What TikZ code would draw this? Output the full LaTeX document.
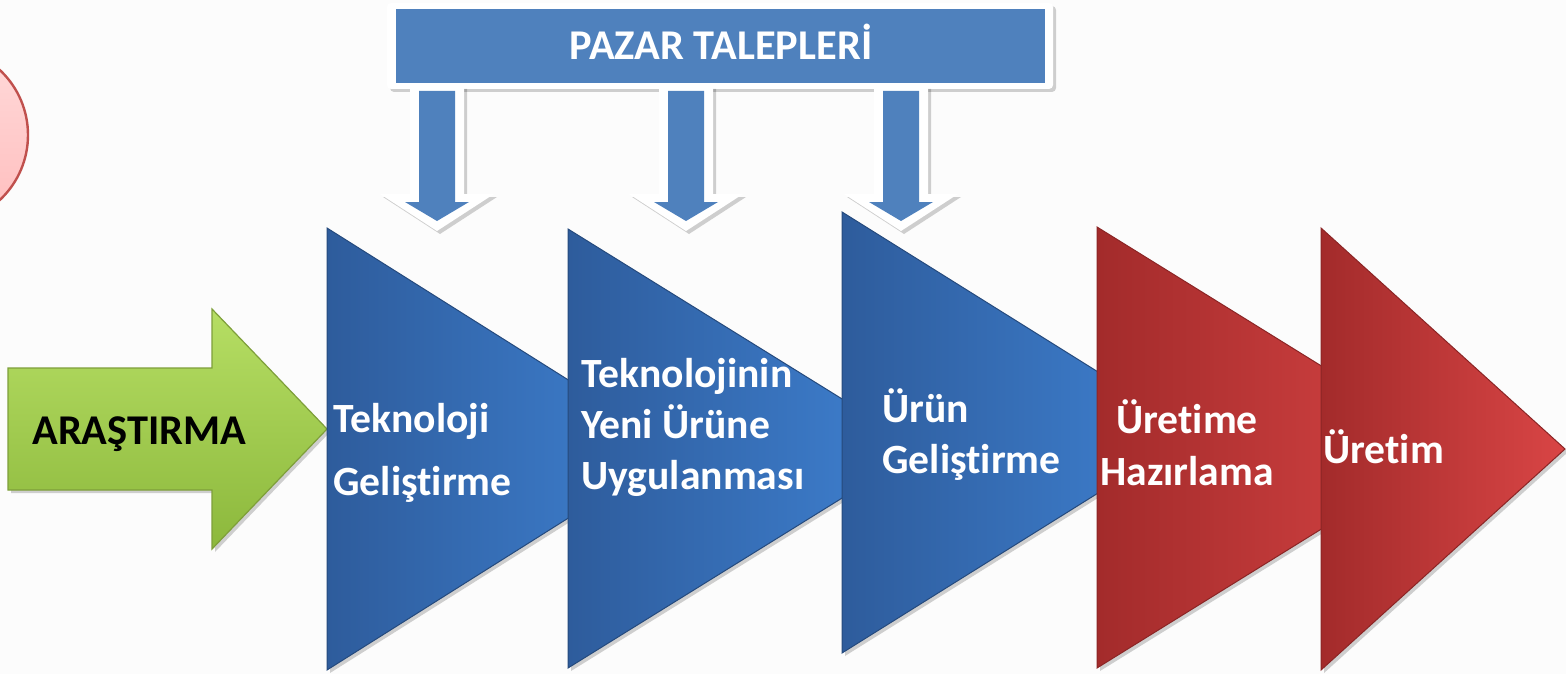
\documentclass[tikz,border=0pt]{standalone}
\usepackage{fontspec}
\setmainfont{Carlito}[Ligatures=NoCommon]
\usetikzlibrary{shadows}
\definecolor{bg}{HTML}{FCFCFC}
\definecolor{bluedark}{HTML}{2E5C9C}
\definecolor{bluelight}{HTML}{3F82D3}
\definecolor{reddark}{HTML}{A32B2B}
\definecolor{redlight}{HTML}{D94545}
\definecolor{boxblue}{HTML}{4F81BD}
\definecolor{greenlight}{HTML}{B6DE64}
\definecolor{greendark}{HTML}{8CB83C}
\definecolor{greenedge}{HTML}{7E9F3A}
\definecolor{pinktop}{HTML}{FFDADA}
\definecolor{pinkbot}{HTML}{FFBDBD}
\definecolor{pinkedge}{HTML}{C0504D}
\tikzset{
  softshadow/.style={drop shadow={shadow xshift=1.5pt, shadow yshift=-1.5pt, opacity=0.18, fill=black}},
  bluetri/.style={left color=bluedark, right color=bluelight, draw=bluedark!80!black, line width=0.5pt, softshadow},
  redtri/.style={left color=reddark, right color=redlight, draw=reddark!85!black, line width=0.5pt, softshadow},
  lbl/.style={font=\fontsize{20.8pt}{25.5pt}\selectfont\bfseries, text=white, inner sep=0pt},
}
\begin{document}
\begin{tikzpicture}[x=0.5pt,y=-0.5pt]
\useasboundingbox (0,0) rectangle (1566,674);
\fill[bg] (0,0) rectangle (1566,674);
% pink circle (partly off the page)
\begin{scope}
\clip (0,0) rectangle (1566,674);
\draw[pinkedge, line width=1.2pt, top color=pinktop, bottom color=pinkbot] (-61,135) circle[radius=44.5pt];
\end{scope}
% green arrow
\draw[greenedge, line width=0.6pt, top color=greenlight, bottom color=greendark, softshadow]
  (8,368) -- (212,368) -- (212,309) -- (327,429) -- (212,549) -- (212,490) -- (8,490) -- cycle;
% stage triangles
\path[bluetri] (327,228) -- (678,449) -- (327,670) -- cycle;
\path[bluetri] (568,229) -- (922,448.5) -- (568,668) -- cycle;
\path[bluetri] (842,212) -- (1195,432.5) -- (842,653) -- cycle;
\path[redtri] (1097,227) -- (1453,447.5) -- (1097,668) -- cycle;
\path[redtri] (1321,228) -- (1565,449) -- (1321,670) -- cycle;
% top box
\fill[white, rounded corners=2pt, softshadow] (387,3) rectangle (1053,89);
\node[fill=boxblue, minimum width=324.5pt, minimum height=37pt, anchor=north west, inner sep=0pt,
      text=white, font=\fontsize{21.2pt}{24pt}\selectfont\bfseries, text height=13pt, text depth=0pt]
  (pazar) at (396,9) {PAZAR TALEPLERİ};
% down arrows
\foreach \c in {437,686,901}{
  \fill[white, softshadow] ({\c-27},86) -- ({\c+27},86) -- ({\c+27},194) -- ({\c+57},194) -- (\c,231)
     -- ({\c-57},194) -- ({\c-27},194) -- cycle;
  \fill[boxblue] ({\c-18},91) -- ({\c+18},91) -- ({\c+18},202) -- ({\c+32},202) -- (\c,221)
     -- ({\c-32},202) -- ({\c-18},202) -- cycle;
}
% labels
\node[lbl, text=black, font=\fontsize{21.2pt}{25pt}\selectfont\bfseries, anchor=base west]
  (arastirma) at (32,444) {ARAŞTIRMA};
\node[lbl, font=\fontsize{20.8pt}{31.5pt}\selectfont\bfseries, anchor=base west]
  (tekgel) at (333,432) {\begin{tabular}[t]{@{}l@{}}Teknoloji\\Geliştirme\end{tabular}};
\node[lbl, anchor=base west]
  (tekuyg) at (581,387) {\begin{tabular}[t]{@{}l@{}}Teknolojinin\\Yeni Ürüne\\Uygulanması\end{tabular}};
\node[lbl, anchor=base west]
  (urungel) at (882,422) {\begin{tabular}[t]{@{}l@{}}Ürün\\Geliştirme\end{tabular}};
\node[lbl, font=\fontsize{20.8pt}{26pt}\selectfont\bfseries, anchor=base]
  (uretimehaz) at (1187,433) {\begin{tabular}[t]{@{}c@{}}Üretime\\Hazırlama\end{tabular}};
\node[lbl, anchor=base west] (uretim) at (1323,463) {Üretim};
\end{tikzpicture}
\end{document}
